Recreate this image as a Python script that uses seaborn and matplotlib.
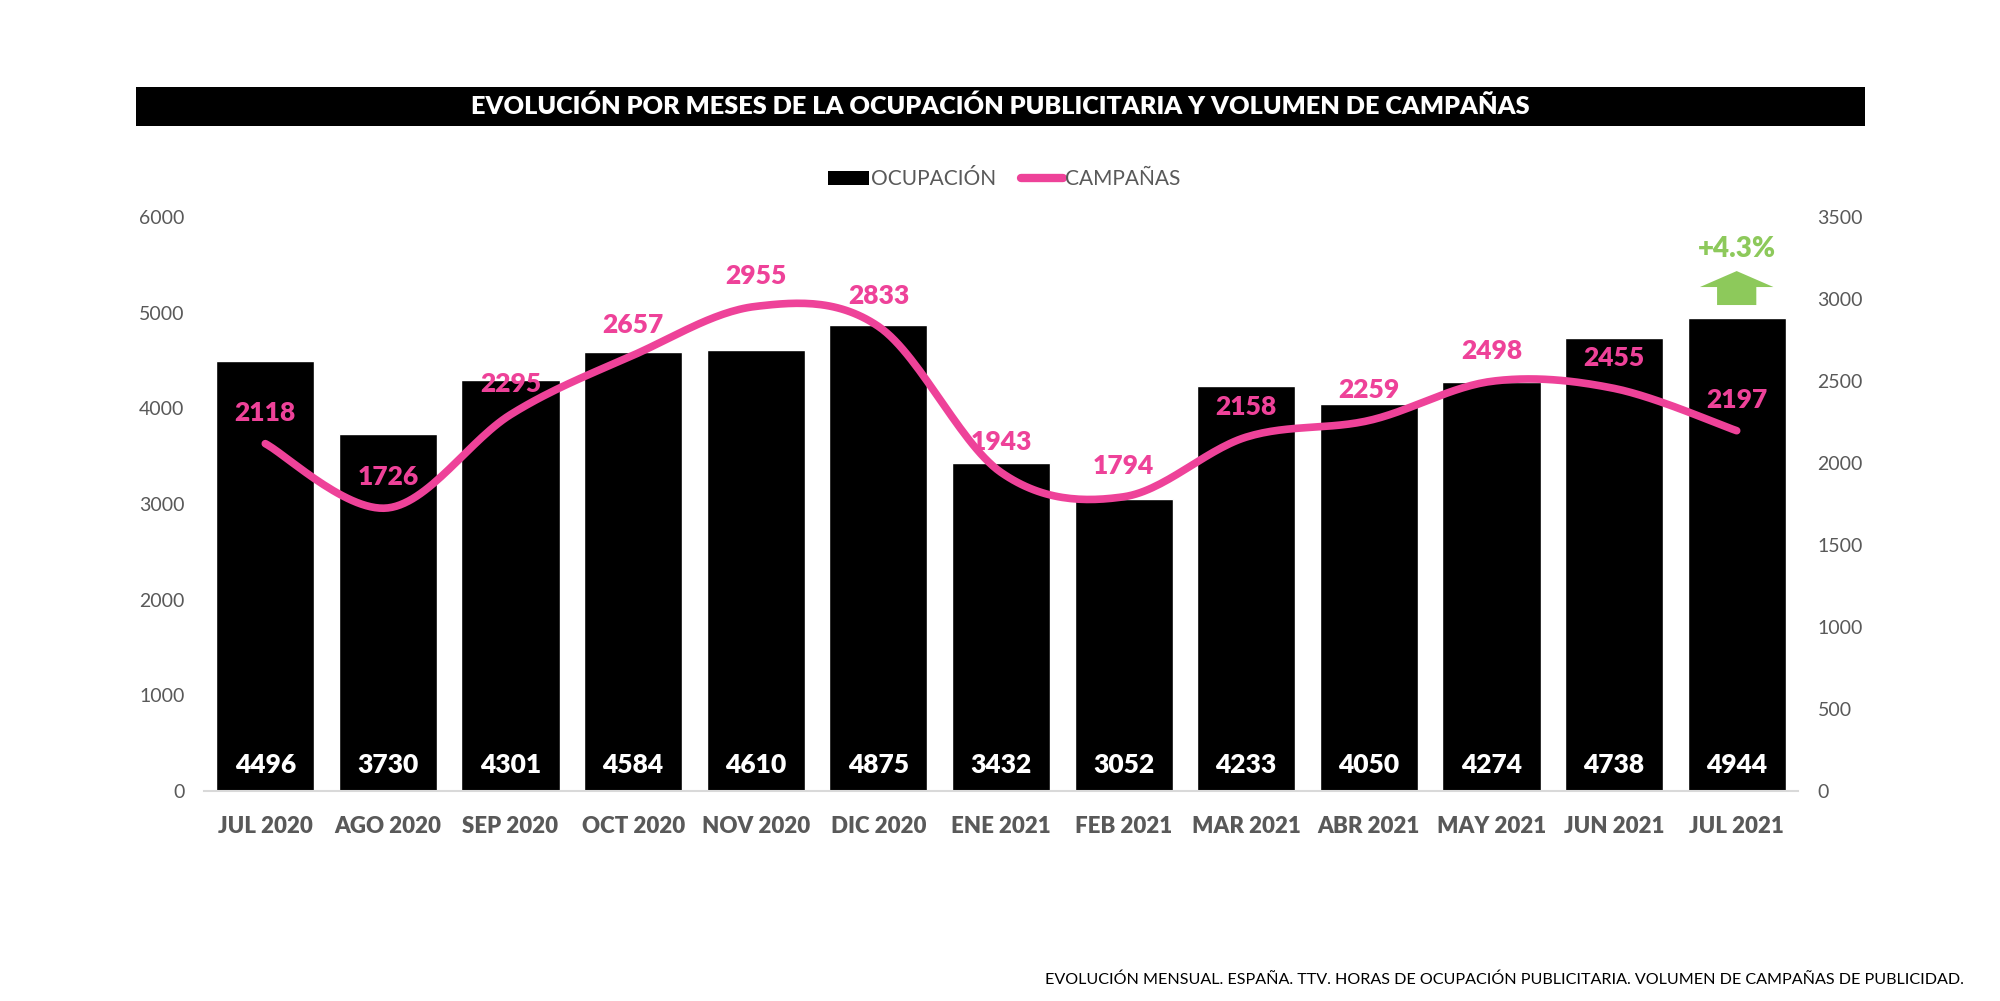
import numpy as np
import pandas as pd
import matplotlib
matplotlib.use("Agg")
import matplotlib.pyplot as plt
import seaborn as sns
from matplotlib.lines import Line2D
from matplotlib.patches import Patch, Rectangle

# ---------------- data ----------------
meses = ["JUL 2020", "AGO 2020", "SEP 2020", "OCT 2020", "NOV 2020", "DIC 2020",
         "ENE 2021", "FEB 2021", "MAR 2021", "ABR 2021", "MAY 2021", "JUN 2021", "JUL 2021"]
ocupacion = [4496, 3730, 4301, 4584, 4610, 4875, 3432, 3052, 4233, 4050, 4274, 4738, 4944]
campanas = [2118, 1726, 2295, 2657, 2955, 2833, 1943, 1794, 2158, 2259, 2498, 2455, 2197]
left_ticks = [0, 1000, 2000, 3000, 4000, 5000, 6000]
right_ticks = [0, 500, 1000, 1500, 2000, 2500, 3000, 3500]
variacion = "+4.3%"
titulo = "EVOLUCIÓN POR MESES DE LA OCUPACIÓN PUBLICITARIA Y VOLUMEN DE CAMPAÑAS"
nota = "EVOLUCIÓN MENSUAL. ESPAÑA. TTV. HORAS DE OCUPACIÓN PUBLICITARIA. VOLUMEN DE CAMPAÑAS DE PUBLICIDAD."

PINK = "#EE4299"
GREEN = "#8DC95B"
GRAY = "#595959"


def catmull_rom(x, y, n=30):
    P = np.column_stack([x, y]).astype(float)
    P = np.vstack([P[0], P, P[-1]])
    out = []
    t = np.linspace(0, 1, n, endpoint=False)[:, None]
    for i in range(1, len(P) - 2):
        p0, p1, p2, p3 = P[i - 1], P[i], P[i + 1], P[i + 2]
        pts = 0.5 * ((2 * p1) + (-p0 + p2) * t + (2 * p0 - 5 * p1 + 4 * p2 - p3) * t ** 2
                     + (-p0 + 3 * p1 - 3 * p2 + p3) * t ** 3)
        out.append(pts)
    out.append(P[-2][None, :])
    return np.vstack(out)


sns.set_theme(style="white")
plt.rcParams["font.family"] = ["Lato", "DejaVu Sans"]

fig = plt.figure(figsize=(20, 10.01), dpi=100)
ax = fig.add_axes([0.102, 0.2098, 0.797, 0.5734])

df = pd.DataFrame({"mes": meses, "ocupacion": ocupacion})
sns.barplot(data=df, x="mes", y="ocupacion", color="black", saturation=1,
            width=0.8, ax=ax)
ax.set_xlim(-0.5, len(meses) - 0.5)
ax.set_ylim(0, 6000)
ax.set_yticks(left_ticks)
ax.set_yticklabels([str(v) for v in left_ticks])
ax.set_xlabel("")
ax.set_ylabel("")
ax.tick_params(axis="y", length=0, pad=14, labelsize=14, labelcolor=GRAY)
ax.tick_params(axis="x", length=0, pad=18, labelsize=16, labelcolor=GRAY)
for lab in ax.get_xticklabels():
    lab.set_fontweight("heavy")
for s in ["top", "left", "right"]:
    ax.spines[s].set_visible(False)
ax.spines["bottom"].set_color("#D9D9D9")
ax.spines["bottom"].set_linewidth(1.5)
ax.grid(False)

for i, v in enumerate(ocupacion):
    ax.text(i, 270, str(v), ha="center", va="center", color="white",
            fontsize=19, fontweight="heavy", zorder=5)

# arrow + variation over last bar
i_last = len(ocupacion) - 1
v_last = ocupacion[i_last]
tail, base, tip = v_last + 136, v_last + 324, v_last + 491
hw, sw = 0.30, 0.16
ax.fill([i_last - sw, i_last + sw, i_last + sw, i_last + hw, i_last, i_last - hw, i_last - sw],
        [tail, tail, base, base, tip, base, base], color=GREEN, lw=0, zorder=6, clip_on=False)
ax.text(i_last, v_last + 721, variacion, ha="center", va="center", color=GREEN,
        fontsize=20, fontweight="heavy", clip_on=False)

# line on secondary axis
ax2 = ax.twinx()
sm = catmull_rom(np.arange(len(campanas)), campanas)
sns.lineplot(x=sm[:, 0], y=sm[:, 1], ax=ax2, color=PINK, lw=5.5, sort=False,
             estimator=None)
ax2.lines[-1].set_solid_capstyle("round")
ax2.set_ylim(0, 3500)
ax2.set_yticks(right_ticks)
ax2.set_yticklabels([str(v) for v in right_ticks])
ax2.tick_params(axis="y", length=0, pad=14, labelsize=14, labelcolor=GRAY)
for s in ["top", "left", "right", "bottom"]:
    ax2.spines[s].set_visible(False)
ax2.grid(False)
ax2.set_xlim(-0.5, len(meses) - 0.5)

for i, v in enumerate(campanas):
    ax2.annotate(str(v), (i, v), xytext=(0, 22), textcoords="offset points",
                 ha="center", va="center", color=PINK, fontsize=19, fontweight="heavy")

# title bar
fig.patches.append(Rectangle((0.068, 0.8741), 0.8645, 0.039, transform=fig.transFigure,
                             facecolor="black", edgecolor="none", zorder=0))
fig.text(0.5, 0.8937, titulo, ha="center", va="center", color="white",
         fontsize=18.2, fontweight="heavy")

# legend
handles = [Patch(facecolor="black", edgecolor="none"),
           Line2D([0], [0], color=PINK, lw=6, solid_capstyle="round")]
fig.legend(handles, ["OCUPACIÓN", "CAMPAÑAS"], loc="center", bbox_to_anchor=(0.502, 0.821),
           ncol=2, frameon=False, fontsize=15, labelcolor=GRAY, handlelength=2.0,
           handletextpad=0.1, columnspacing=1.2)

fig.text(0.982, 0.021, nota, ha="right", va="center", color="black", fontsize=11.6)

fig.savefig("out.png", dpi=100, facecolor="white")
